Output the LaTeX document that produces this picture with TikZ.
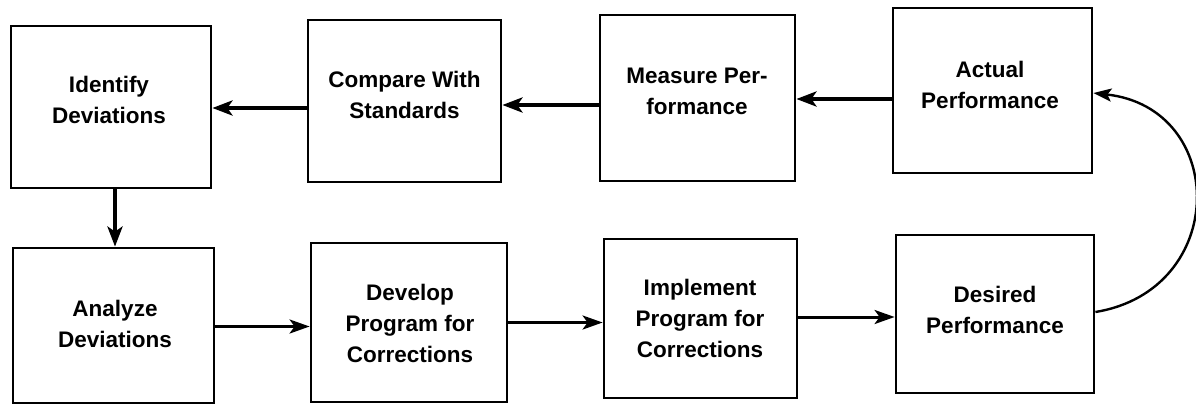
\documentclass[tikz,border=0pt]{standalone}
\usepackage{fontspec}
\setmainfont{Liberation Sans}
\usetikzlibrary{arrows.meta}
\begin{document}
\begin{tikzpicture}[x=1pt,y=-1pt,
  box/.style={draw, line width=2.8pt, inner sep=0pt},
  lbl/.style={font=\bfseries\fontsize{22.5}{31}\selectfont, align=center, inner sep=0pt},
  toparr/.style={line width=3.8pt, -{Stealth[length=20pt,width=15pt,inset=5pt]}},
  botarr/.style={line width=3pt, -{Stealth[length=20pt,width=14pt,inset=5pt]}},
  curvearr/.style={line width=2.4pt, -{Stealth[length=18pt,width=13pt,inset=4pt]}}]
\useasboundingbox (0,0) rectangle (1196,405);
% boxes
\node[box, minimum width=200pt, minimum height=162pt] (idf) at (111,107) {};
\node[box, minimum width=193pt, minimum height=162pt] (cmp) at (404.5,101) {};
\node[box, minimum width=195pt, minimum height=166pt] (mea) at (697.5,98) {};
\node[box, minimum width=199pt, minimum height=165pt] (act) at (992.5,90.5) {};
\node[box, minimum width=201pt, minimum height=155pt] (ana) at (113.5,325.5) {};
\node[box, minimum width=196pt, minimum height=159pt] (dev) at (409,322.5) {};
\node[box, minimum width=193pt, minimum height=159pt] (imp) at (700.5,318.5) {};
\node[box, minimum width=198pt, minimum height=158pt] (des) at (995,314) {};
% labels
\node[lbl] (tidf) at (109,100) {Identify\\Deviations};
\node[lbl] (tcmp) at (404.5,94.5) {Compare With\\Standards};
\node[lbl] (tmea) at (697,91) {Measure Per-\\formance};
\node[lbl] (tact) at (990,85) {Actual\\Performance};
\node[lbl] (tana) at (115,324) {Analyze\\Deviations};
\node[lbl] (tdev) at (410,323) {Develop\\Program for\\Corrections};
\node[lbl] (timp) at (700,318) {Implement\\Program for\\Corrections};
\node[lbl] (tdes) at (995,310) {Desired\\Performance};
% connectors
\coordinate (a1) at ([yshift=-7pt]cmp.west);
\draw[toparr] (a1) -- (a1 -| idf.east);
\coordinate (a2) at ([yshift=-7pt]mea.west);
\draw[toparr] (a2) -- (a2 -| cmp.east);
\coordinate (a3) at ([yshift=-8.5pt]act.west);
\draw[toparr] (a3) -- (a3 -| mea.east);
\coordinate (a4) at ([xshift=4pt]idf.south);
\draw[toparr] (a4) -- (a4 |- ana.north);
\coordinate (a5) at ([yshift=-1pt]ana.east);
\draw[botarr] (a5) -- (a5 -| dev.west);
\coordinate (a6) at (dev.east);
\draw[botarr] (a6) -- (a6 -| imp.west);
\coordinate (a7) at ([yshift=1.5pt]imp.east);
\draw[botarr] (a7) -- (a7 -| des.west);
\draw[curvearr] ([yshift=2pt]des.east) .. controls +(134,-22) and +(135,15) .. ([yshift=-2.5pt]act.east);
\end{tikzpicture}
\end{document}
